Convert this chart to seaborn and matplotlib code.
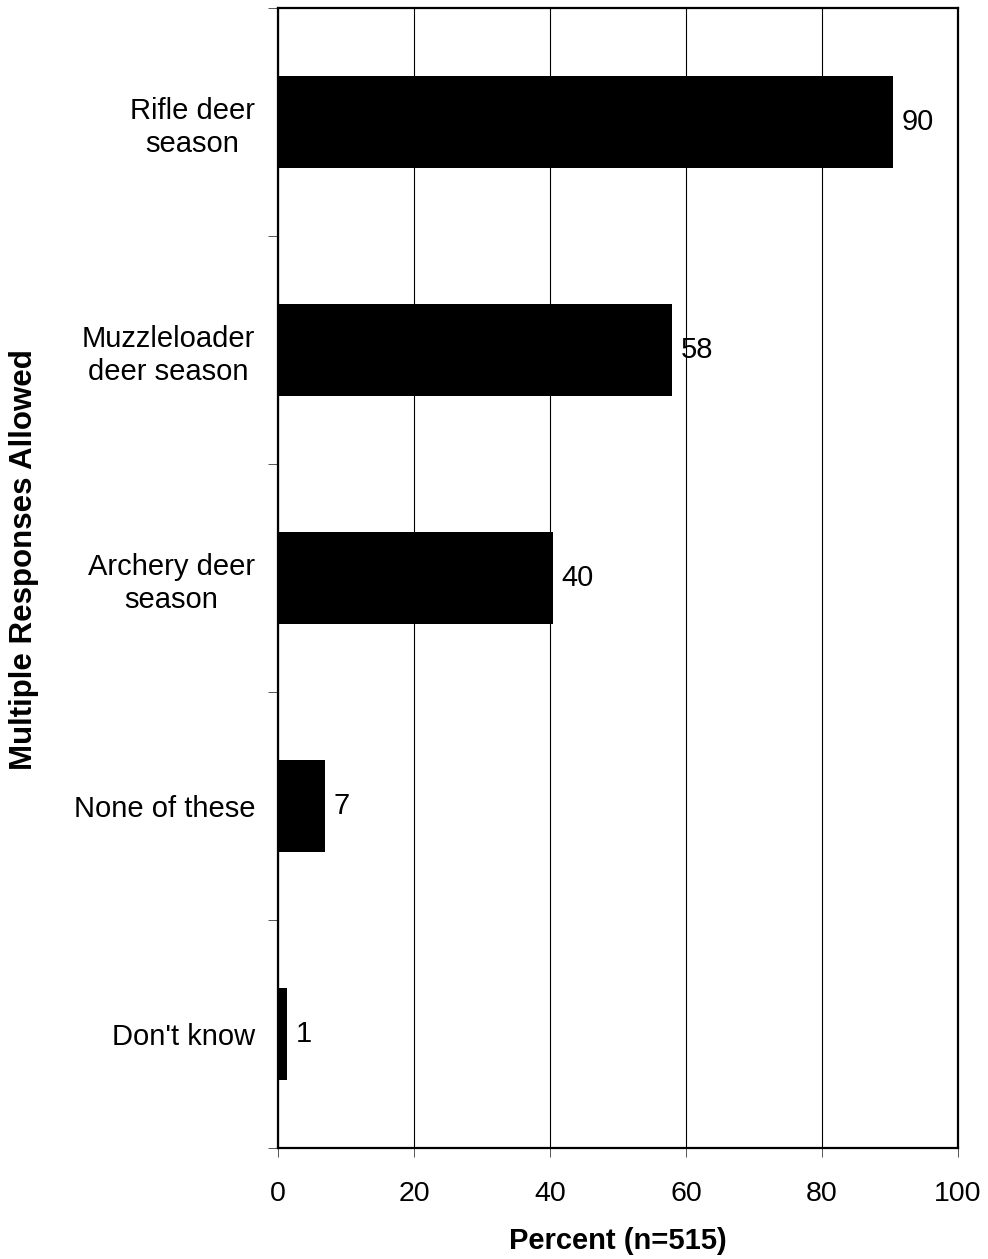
import matplotlib
matplotlib.use("Agg")
import matplotlib.pyplot as plt
import seaborn as sns
import pandas as pd

categories = ["Rifle deer\nseason", "Muzzleloader\ndeer season", "Archery deer\nseason", "None of these", "Don't know"]
values = [90.4, 57.9, 40.4, 6.9, 1.3]
labels = ["90", "58", "40", "7", "1"]
xticks = [0, 20, 40, 60, 80, 100]

sns.set_theme(style="white")
plt.rcParams['font.family'] = ['Liberation Sans', 'DejaVu Sans']
plt.rcParams['text.color'] = 'black'
plt.rcParams['axes.labelcolor'] = 'black'
plt.rcParams['xtick.color'] = 'black'
plt.rcParams['ytick.color'] = 'black'

df = pd.DataFrame({"cat": categories, "val": values})

fig = plt.figure(figsize=(9.88, 12.59), dpi=100)
ax = fig.add_axes([278/988, 1-1148/1259, 680/988, 1140/1259])

sns.barplot(data=df, x="val", y="cat", orient="h", color="black", width=0.4,
            saturation=1, ax=ax, zorder=3, linewidth=0)

ax.set_xlim(0, 100)
ax.set_ylim(4.5, -0.5)
ax.set_xticks(xticks)
ax.set_xticklabels([str(t) for t in xticks], fontsize=20.5)
ax.grid(axis="x", color="black", linewidth=0.8, zorder=0)
ax.grid(axis="y", visible=False)
ax.set_axisbelow(True)

for i, (v, l) in enumerate(zip(values, labels)):
    ax.annotate(l, (v, i), xytext=(6.5, 0), textcoords="offset points",
                va="center", ha="left", fontsize=21, color="black")

ax.set_yticks(range(len(categories)))
ax.set_yticklabels(categories, fontsize=21, ha="right", multialignment="center",
                   linespacing=1.25)
ax.tick_params(axis="y", which="major", length=0, pad=16.5)
ax.set_yticks([i - 0.5 for i in range(len(categories) + 1)], minor=True)
ax.tick_params(axis="y", which="minor", length=7, width=0.7, color="#555555", left=True, direction="out")
ax.tick_params(axis="x", which="major", length=6.5, width=0.7, color="#555555", bottom=True, direction="out", pad=17)

for s in ax.spines.values():
    s.set_visible(True)
    s.set_color("black")
    s.set_linewidth(1.6)

ax.set_xlabel("Percent (n=515)", fontsize=21, fontweight="bold", labelpad=14.5)
ax.set_ylabel("")
fig.text(24/988, 1-560/1259, "Multiple Responses Allowed", rotation=90, fontsize=22.5,
         fontweight="bold", ha="center", va="center")

fig.savefig("out.png", dpi=100)
